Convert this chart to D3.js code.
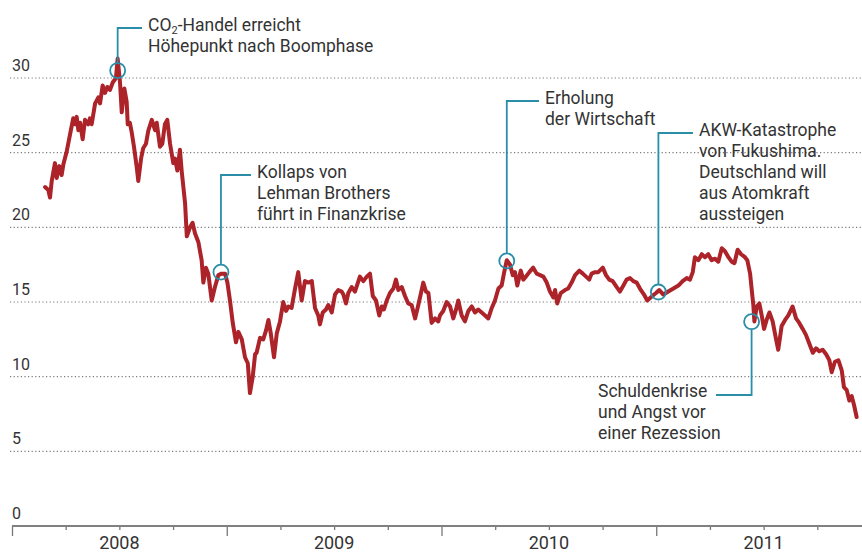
<!DOCTYPE html>
<html>
<head>
<meta charset="utf-8">
<script src="https://cdn.jsdelivr.net/npm/d3@7"></script>
<style>
  body { margin: 0; background: #fff; }
  text { font-family: Roboto, "Open Sans", sans-serif; }
</style>
</head>
<body>
<svg id="chart" width="862" height="554"></svg>
<script>
// Preis je Tonne CO2 (Euro), Zeit als Dezimaljahr
const dates = [
  2008.154,2008.169,2008.177,2008.185,2008.200,2008.208,2008.220,2008.231,2008.239,2008.255,
  2008.270,2008.285,2008.293,2008.301,2008.309,2008.317,2008.329,2008.340,2008.355,2008.363,
  2008.371,2008.387,2008.402,2008.410,2008.422,2008.433,2008.444,2008.456,2008.469,2008.484,
  2008.492,2008.503,2008.511,2008.523,2008.534,2008.539,2008.549,2008.557,2008.568,2008.581,
  2008.588,2008.601,2008.611,2008.624,2008.635,2008.651,2008.666,2008.674,2008.689,2008.700,
  2008.712,2008.723,2008.736,2008.751,2008.759,2008.770,2008.782,2008.790,2008.806,2008.814,
  2008.829,2008.841,2008.852,2008.868,2008.883,2008.891,2008.903,2008.914,2008.930,2008.945,
  2008.961,2008.976,2008.992,2009.003,2009.015,2009.028,2009.043,2009.054,2009.070,2009.085,
  2009.098,2009.108,2009.121,2009.132,2009.139,2009.155,2009.170,2009.183,2009.194,2009.205,
  2009.220,2009.233,2009.248,2009.263,2009.276,2009.287,2009.302,2009.318,2009.333,2009.349,
  2009.364,2009.380,2009.396,2009.411,2009.426,2009.434,2009.447,2009.462,2009.473,2009.489,
  2009.504,2009.519,2009.535,2009.543,2009.555,2009.566,2009.582,2009.597,2009.620,2009.636,
  2009.652,2009.667,2009.680,2009.695,2009.710,2009.722,2009.732,2009.745,2009.760,2009.776,
  2009.788,2009.799,2009.815,2009.830,2009.845,2009.861,2009.877,2009.892,2009.903,2009.915,
  2009.928,2009.939,2009.954,2009.970,2009.985,2009.993,2010.008,2010.024,2010.040,2010.055,
  2010.068,2010.078,2010.094,2010.109,2010.125,2010.141,2010.156,2010.171,2010.187,2010.203,
  2010.218,2010.234,2010.249,2010.265,2010.280,2010.292,2010.304,2010.319,2010.332,2010.342,
  2010.353,2010.369,2010.381,2010.393,2010.409,2010.427,2010.443,2010.459,2010.474,2010.490,
  2010.505,2010.521,2010.529,2010.539,2010.555,2010.575,2010.590,2010.606,2010.622,2010.642,
  2010.658,2010.673,2010.688,2010.699,2010.715,2010.730,2010.751,2010.766,2010.781,2010.797,
  2010.816,2010.831,2010.847,2010.862,2010.878,2010.893,2010.909,2010.924,2010.943,2010.958,
  2010.974,2010.990,2010.999,2011.014,2011.033,2011.056,2011.080,2011.103,2011.123,2011.142,
  2011.157,2011.170,2011.180,2011.196,2011.212,2011.227,2011.242,2011.258,2011.274,2011.289,
  2011.305,2011.320,2011.336,2011.351,2011.364,2011.379,2011.395,2011.413,2011.424,2011.437,
  2011.444,2011.452,2011.457,2011.468,2011.480,2011.491,2011.502,2011.514,2011.527,2011.542,
  2011.558,2011.568,2011.584,2011.600,2011.615,2011.635,2011.651,2011.666,2011.682,2011.697,
  2011.713,2011.729,2011.744,2011.759,2011.775,2011.791,2011.806,2011.817,2011.832,2011.848,
  2011.864,2011.874,2011.887,2011.899,2011.910,2011.921,2011.933
];
const prices = [
  22.7,22.5,22.0,23.1,24.3,23.3,24.1,23.5,24.2,25.1,
  26.2,27.3,26.9,27.4,26.5,27.0,25.9,27.2,26.9,27.3,
  26.9,28.3,28.7,28.3,29.5,29.0,29.4,29.2,29.7,30.0,
  31.3,29.7,27.7,29.3,28.4,26.9,27.0,26.4,25.4,24.0,
  23.1,24.6,25.3,25.6,26.5,27.2,26.5,27.0,25.4,25.6,
  26.9,27.2,25.6,24.3,24.6,23.8,25.2,23.8,21.6,19.4,
  20.0,20.3,19.6,19.0,17.8,16.3,17.3,16.9,15.1,16.0,
  16.8,16.9,16.9,16.3,15.1,13.6,12.3,13.0,12.5,11.3,
  10.9,8.9,10.0,11.5,11.6,12.6,12.5,13.1,13.8,12.9,
  11.3,12.9,13.7,15.0,14.4,14.7,14.6,15.9,17.0,15.1,
  16.4,16.3,16.4,14.6,14.1,13.5,14.3,14.5,14.8,14.3,
  15.5,15.8,15.7,15.5,14.9,15.6,16.0,15.7,16.7,16.4,
  16.7,16.9,15.4,15.1,14.1,14.7,14.5,15.1,15.6,15.9,
  16.5,15.8,16.0,15.4,14.9,14.8,13.9,14.8,15.5,16.3,
  15.7,15.6,13.6,13.9,13.7,14.1,14.4,15.0,14.7,13.9,
  14.5,15.1,14.1,13.7,14.4,14.7,14.3,14.5,14.3,14.1,
  13.9,14.6,15.1,15.9,16.1,17.0,17.8,17.5,16.8,17.0,
  16.1,17.1,16.5,16.7,17.0,17.3,16.9,16.8,16.7,16.3,
  15.7,15.3,15.8,14.9,15.6,15.8,15.9,16.3,16.8,17.1,
  16.9,16.7,16.5,16.9,17.0,17.0,17.3,16.8,16.5,16.4,
  16.0,15.7,16.1,16.5,16.6,16.4,16.3,15.9,15.5,15.1,
  15.3,15.5,15.6,15.8,15.5,15.7,15.9,16.1,16.4,16.6,
  16.5,17.0,18.0,17.8,18.2,18.0,18.2,17.8,17.9,17.7,
  18.6,18.4,18.0,17.7,17.6,18.5,18.2,18.0,17.8,16.9,
  15.9,14.8,13.7,14.7,14.9,14.1,13.2,13.8,14.3,13.7,
  12.5,11.8,13.4,13.8,14.1,14.7,13.9,13.6,13.2,12.8,
  12.2,11.6,11.9,11.7,11.8,11.5,11.1,10.3,11.0,11.1,
  10.4,9.3,9.1,8.4,8.7,8.1,7.3
];

const yTicks = [0, 5, 10, 15, 20, 25, 30];
const years = [2008, 2009, 2010, 2011];

// Ereignisse: Zeitpunkt, Wert am Kreis, Textzeilen
const eventDates = [2008.492, 2008.973, 2010.304, 2011.010, 2011.444];
const eventValues = [30.5, 17.0, 17.75, 15.67, 13.68];
const eventTexts = [
  ["CO|2|-Handel erreicht", "Höhepunkt nach Boomphase"],
  ["Kollaps von", "Lehman Brothers", "führt in Finanzkrise"],
  ["Erholung", "der Wirtschaft"],
  ["AKW-Katastrophe", "von Fukushima.", "Deutschland will", "aus Atomkraft", "aussteigen"],
  ["Schuldenkrise", "und Angst vor", "einer Rezession"]
];

const svg = d3.select("#chart");
svg.selectAll("*").remove();

const x = d3.scaleLinear().domain([2008, 2012]).range([12, 871]);
const y = d3.scaleLinear().domain([0, 30]).range([526, 78]);

const RED = "#ac2329";
const TEAL = "#2a8ea8";
const TXT = "#333";

// Gitterlinien (gepunktet)
svg.append("g")
  .selectAll("line")
  .data(yTicks.filter(d => d > 0))
  .join("line")
  .attr("x1", 10)
  .attr("x2", 862)
  .attr("y1", d => y(d))
  .attr("y2", d => y(d))
  .attr("stroke", "#7a7a7a")
  .attr("stroke-width", 1.2)
  .attr("stroke-dasharray", "1.2,2.4");

// Y-Beschriftung über den Linien
svg.append("g")
  .selectAll("text")
  .data(yTicks)
  .join("text")
  .attr("x", 12)
  .attr("y", d => y(d) - 7)
  .attr("fill", TXT)
  .attr("font-size", "16px")
  .text(d => d);

// X-Achse: Quartalsstriche, Jahresbeginn länger
const quarters = d3.range(2008, 2012.01, 0.25);
const xAxis = svg.append("g")
  .attr("transform", `translate(0,${y(0)})`)
  .call(d3.axisBottom(x).tickValues(quarters).tickSize(4).tickFormat(""));
xAxis.select(".domain").remove();
xAxis.selectAll(".tick line")
  .attr("stroke", "#777")
  .attr("stroke-width", 1.3)
  .attr("y2", d => Number.isInteger(d) ? 10 : 4);

svg.append("line")
  .attr("x1", 12).attr("x2", 862)
  .attr("y1", y(0)).attr("y2", y(0))
  .attr("stroke", "#808080")
  .attr("stroke-width", 2);

svg.append("g")
  .selectAll("text")
  .data(years)
  .join("text")
  .attr("x", d => x(d + 0.5))
  .attr("y", 549)
  .attr("text-anchor", "middle")
  .attr("fill", TXT)
  .attr("font-size", "18px")
  .text(d => d);

// Preislinie
const line = d3.line()
  .x(i => x(dates[i]))
  .y(i => y(prices[i]));

svg.append("path")
  .datum(d3.range(dates.length))
  .attr("d", line)
  .attr("fill", "none")
  .attr("stroke", RED)
  .attr("stroke-width", 4)
  .attr("stroke-linejoin", "round")
  .attr("stroke-linecap", "round");

// Anmerkungen: Kreis, Führungslinie, Text
const r = 7.5;
const notes = [
  { textX: 148, lineY: 28, firstBase: 31, up: true },
  { textX: 257, lineY: 175, firstBase: 178, up: true },
  { textX: 545, lineY: 101, firstBase: 104, up: true },
  { textX: 699, lineY: 133, firstBase: 136, up: true },
  { textX: 598, lineY: 395, firstBase: 397, up: false, hEnd: 716 }
];

notes.forEach((n, i) => {
  const cx = x(eventDates[i]);
  const cy = y(eventValues[i]);
  const g = svg.append("g");

  const hEnd = n.hEnd !== undefined ? n.hEnd : n.textX - 6;
  g.append("path")
    .attr("d", `M${cx},${n.up ? cy - r : cy + r}V${n.lineY}H${hEnd}`)
    .attr("fill", "none")
    .attr("stroke", TEAL)
    .attr("stroke-width", 1.8);

  g.append("circle")
    .attr("cx", cx)
    .attr("cy", cy)
    .attr("r", r)
    .attr("fill", "none")
    .attr("stroke", TEAL)
    .attr("stroke-width", 1.8);

  eventTexts[i].forEach((t, k) => {
    const txt = g.append("text")
      .attr("x", n.textX)
      .attr("y", n.firstBase + k * 21)
      .attr("fill", TXT)
      .attr("font-size", "17.5px");
    if (t.includes("|")) {
      const parts = t.split("|");
      txt.append("tspan").text(parts[0]);
      txt.append("tspan").attr("font-size", "11px").attr("dy", 3).text(parts[1]);
      txt.append("tspan").attr("dy", -3).text(parts[2]);
    } else {
      txt.text(t);
    }
  });
});
</script>
</body>
</html>
